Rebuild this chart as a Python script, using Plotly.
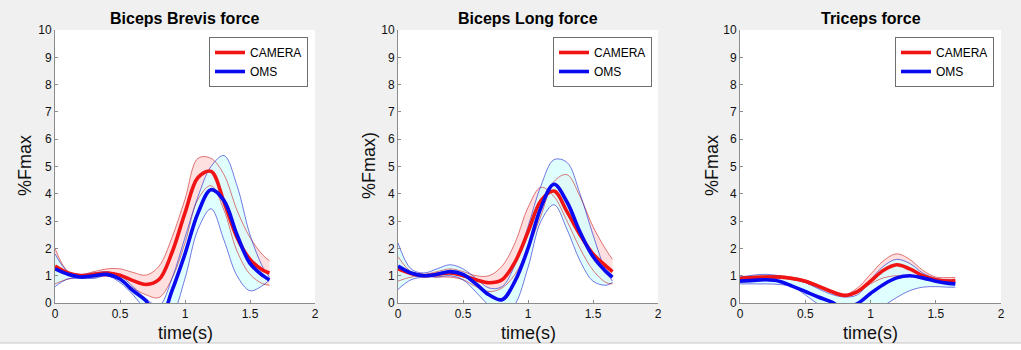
import plotly.graph_objects as go

# ---------------- data ----------------
T = [0, 0.1, 0.2, 0.3, 0.4, 0.5, 0.6, 0.7, 0.8, 0.9, 1.0, 1.1, 1.2, 1.3, 1.4, 1.5, 1.6, 1.65]

titles = ["Biceps Brevis force", "Biceps Long force", "Triceps force"]
ylabels = ["%Fmax", "%Fmax)", "%Fmax"]
xlabel = "time(s)"
series_names = ["CAMERA", "OMS"]
xticks = [0, 0.5, 1, 1.5, 2]
xtick_labels = ["0", "0.5", "1", "1.5", "2"]
yticks = [0, 1, 2, 3, 4, 5, 6, 7, 8, 9, 10]
ytick_labels = [str(v) for v in yticks]

# Biceps Brevis
bb_cam_mean = [1.35, 1.1, 1.0, 1.05, 1.1, 1.02, 0.82, 0.68, 0.86, 1.85, 3.3, 4.6, 4.82, 3.7, 2.4, 1.6, 1.2, 1.1]
bb_cam_hi   = [2.0, 1.15, 1.05, 1.15, 1.25, 1.25, 1.12, 1.02, 1.35, 2.4, 3.8, 5.3, 5.3, 4.7, 3.4, 2.4, 1.75, 1.55]
bb_cam_lo   = [0.7, 0.88, 0.95, 0.95, 0.98, 0.85, 0.55, 0.3, 0.2, 0.9, 2.2, 3.8, 4.3, 3.4, 1.9, 1.05, 0.7, 0.65]
bb_oms_mean = [1.25, 1.05, 0.95, 1.0, 1.05, 0.88, 0.45, 0.08, -0.7, 0.45, 1.8, 3.3, 4.15, 3.75, 2.5, 1.45, 1.0, 0.85]
bb_oms_hi   = [1.8, 1.15, 1.05, 1.1, 1.15, 1.0, 0.6, 0.15, -0.1, 0.9, 2.4, 3.9, 5.0, 5.4, 4.3, 2.5, 1.3, 0.95]
bb_oms_lo   = [0.6, 0.88, 0.9, 0.9, 1.0, 0.75, 0.3, -0.3, -1.0, -0.5, 0.9, 2.7, 3.45, 2.3, 1.0, 0.45, 0.65, 0.85]

# Biceps Long
bl_cam_mean = [1.25, 1.08, 1.0, 1.05, 1.1, 1.0, 0.85, 0.74, 0.85, 1.5, 2.6, 3.75, 4.1, 3.35, 2.5, 1.8, 1.35, 1.15]
bl_cam_hi   = [1.7, 1.15, 1.05, 1.15, 1.25, 1.15, 1.0, 1.0, 1.35, 2.2, 3.5, 4.24, 3.9, 3.0, 2.0, 1.2, 0.75, 0.7]
bl_cam_lo   = [0.8, 0.95, 1.0, 0.95, 0.95, 0.85, 0.6, 0.42, 0.55, 1.05, 2.0, 3.2, 4.45, 4.7, 3.9, 2.8, 1.95, 1.6]
bl_oms_mean = [1.35, 1.1, 1.0, 1.05, 1.15, 1.05, 0.7, 0.3, 0.12, 0.8, 2.0, 3.5, 4.35, 3.7, 2.6, 1.7, 1.15, 0.95]
bl_oms_hi   = [2.2, 1.25, 1.1, 1.25, 1.4, 1.25, 0.9, 0.55, 0.6, 1.4, 2.8, 4.3, 5.25, 5.15, 4.0, 2.5, 1.15, 0.8]
bl_oms_lo   = [0.5, 0.85, 0.95, 0.95, 1.0, 0.85, 0.4, -0.1, -0.5, -0.05, 1.3, 3.0, 3.6, 2.7, 1.55, 0.8, 0.65, 0.75]

# Triceps
tr_cam_mean = [0.9, 0.93, 0.95, 0.95, 0.9, 0.8, 0.62, 0.42, 0.28, 0.42, 0.8, 1.2, 1.4, 1.25, 1.0, 0.85, 0.8, 0.82]
tr_cam_hi   = [0.95, 0.98, 1.0, 1.0, 0.95, 0.85, 0.66, 0.45, 0.3, 0.55, 1.05, 1.55, 1.8, 1.6, 1.2, 0.95, 0.93, 0.93]
tr_cam_lo   = [0.85, 0.88, 0.9, 0.9, 0.85, 0.75, 0.56, 0.38, 0.26, 0.4, 0.7, 0.92, 1.0, 0.98, 0.88, 0.78, 0.75, 0.75]
tr_oms_mean = [0.8, 0.83, 0.85, 0.8, 0.62, 0.42, 0.22, 0.04, -0.2, -0.02, 0.35, 0.68, 0.92, 1.0, 0.92, 0.8, 0.72, 0.7]
tr_oms_hi   = [0.95, 1.02, 1.05, 1.0, 0.9, 0.75, 0.52, 0.32, 0.22, 0.3, 0.85, 1.35, 1.6, 1.45, 1.1, 0.9, 0.85, 0.85]
tr_oms_lo   = [0.7, 0.7, 0.7, 0.68, 0.6, 0.3, -0.05, -0.35, -0.55, -0.5, -0.35, -0.1, 0.2, 0.45, 0.58, 0.6, 0.58, 0.58]

panels = [
    (bb_cam_mean, bb_cam_hi, bb_cam_lo, bb_oms_mean, bb_oms_hi, bb_oms_lo),
    (bl_cam_mean, bl_cam_hi, bl_cam_lo, bl_oms_mean, bl_oms_hi, bl_oms_lo),
    (tr_cam_mean, tr_cam_hi, tr_cam_lo, tr_oms_mean, tr_oms_hi, tr_oms_lo),
]

# ---------------- styling ----------------
W, H = 1021, 350
FONT = "Liberation Sans, Arial, Helvetica, sans-serif"
AX = "#8c8c8c"
TXT = "#111111"
RED = "rgb(240,20,20)"
BLUE = "rgb(10,10,240)"
RED_THIN = "rgba(205,30,30,0.6)"
BLUE_THIN = "rgba(30,30,205,0.6)"
PINK_FILL = "rgba(255,0,0,0.12)"
CYAN_FILL = "rgba(215,255,255,0.8)"

# pixel geometry of each panel: (x0, x1) for the axes, shared y
px_x = [(55, 315), (398, 658), (740, 1001)]
py_top, py_bot = 30, 303
legend_px = [(209, 37), (553, 37), (895, 37)]
ylabel_px = [25, 369, 712]


def band(fig, hi, lo, xa, ya, leg, fillcolor):
    fig.add_trace(go.Scatter(x=T, y=hi, xaxis=xa, yaxis=ya, mode="lines",
                             line=dict(width=0, shape="spline"),
                             showlegend=False, hoverinfo="skip", legend=leg))
    fig.add_trace(go.Scatter(x=T, y=lo, xaxis=xa, yaxis=ya, mode="lines",
                             line=dict(width=0, shape="spline"),
                             fill="tonexty", fillcolor=fillcolor,
                             showlegend=False, hoverinfo="skip", legend=leg))


def thin(fig, y, xa, ya, leg, color):
    fig.add_trace(go.Scatter(x=T, y=y, xaxis=xa, yaxis=ya, mode="lines",
                             line=dict(color=color, width=1, shape="spline"),
                             showlegend=False, hoverinfo="skip", legend=leg))


fig = go.Figure()

for i, (cm, ch, cl, om, oh, ol) in enumerate(panels):
    n = "" if i == 0 else str(i + 1)
    xa, ya = "x" + n, "y" + n
    leg = "legend" + n
    band(fig, ch, cl, xa, ya, leg, PINK_FILL)
    band(fig, oh, ol, xa, ya, leg, CYAN_FILL)
    thin(fig, ch, xa, ya, leg, RED_THIN)
    thin(fig, cl, xa, ya, leg, RED_THIN)
    thin(fig, oh, xa, ya, leg, BLUE_THIN)
    thin(fig, ol, xa, ya, leg, BLUE_THIN)
    fig.add_trace(go.Scatter(x=T, y=cm, xaxis=xa, yaxis=ya, mode="lines",
                             line=dict(color=RED, width=3.6, shape="spline"),
                             name=series_names[0], legend=leg))
    fig.add_trace(go.Scatter(x=T, y=om, xaxis=xa, yaxis=ya, mode="lines",
                             line=dict(color=BLUE, width=3.6, shape="spline"),
                             name=series_names[1], legend=leg))

    x0, x1 = px_x[i]
    axis_common = dict(showline=True, linecolor=AX, linewidth=1, mirror=False,
                       showgrid=False, zeroline=False, ticks="inside", ticklen=3,
                       tickcolor=AX, automargin=False,
                       tickfont=dict(family=FONT, size=12, color=TXT))
    fig.layout["xaxis" + n] = dict(domain=[x0 / W, x1 / W], range=[0, 2],
                                   tickvals=xticks, ticktext=xtick_labels,
                                   anchor=ya, **axis_common)
    fig.layout["yaxis" + n] = dict(domain=[1 - py_bot / H, 1 - py_top / H], range=[0, 10],
                                   tickvals=yticks, ticktext=ytick_labels,
                                   anchor=xa, **axis_common)
    lx, ly = legend_px[i]
    fig.layout[leg] = dict(x=lx / W, y=1 - ly / H, xanchor="left", yanchor="top",
                           bgcolor="white", bordercolor="#6e6e6e", borderwidth=1,
                           font=dict(family=FONT, size=12, color="black"),
                           itemwidth=30, tracegroupgap=0, traceorder="normal")
    cx = (x0 + x1) / 2
    fig.add_annotation(x=cx / W, y=1 - 19 / H, xref="paper", yref="paper",
                       text="<b>" + titles[i] + "</b>", showarrow=False,
                       xanchor="center", yanchor="middle",
                       font=dict(family=FONT, size=16, color="black"))
    fig.add_annotation(x=cx / W, y=1 - 333 / H, xref="paper", yref="paper",
                       text=xlabel, showarrow=False, xanchor="center", yanchor="middle",
                       font=dict(family=FONT, size=18, color=TXT))
    fig.add_annotation(x=ylabel_px[i] / W, y=1 - 166 / H, xref="paper", yref="paper",
                       text=ylabels[i], showarrow=False, textangle=-90,
                       xanchor="center", yanchor="middle",
                       font=dict(family=FONT, size=18, color=TXT))

fig.add_shape(type="rect", xref="paper", yref="paper", x0=0, x1=1, y0=0, y1=7 / H,
              fillcolor="white", line=dict(width=0), layer="below")
fig.add_shape(type="line", xref="paper", yref="paper", x0=0, x1=1, y0=7 / H, y1=7 / H,
              line=dict(color="#c8c8c8", width=1), layer="below")

fig.update_layout(width=W, height=H, autosize=False,
                  margin=dict(l=0, r=0, t=0, b=0, pad=0, autoexpand=False),
                  paper_bgcolor="#f0f0f0", plot_bgcolor="white")

fig.write_html("out.html", config={"displayModeBar": False},
               post_script="document.body.style.margin='0';")
